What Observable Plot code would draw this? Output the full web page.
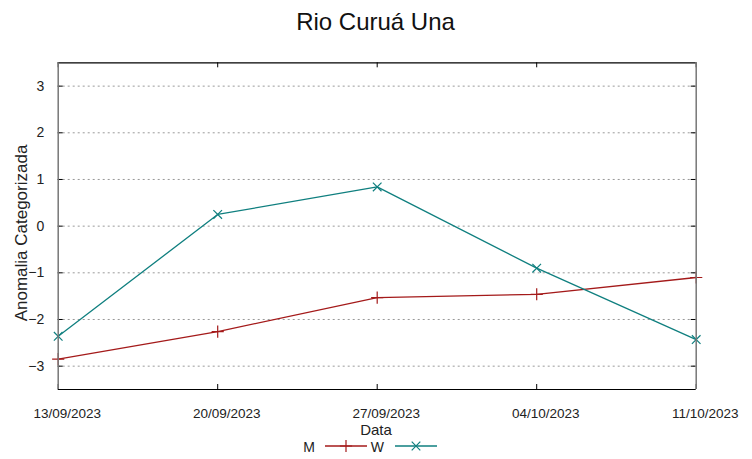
<!DOCTYPE html>
<html>
<head>
<meta charset="utf-8">
<script src="https://cdn.jsdelivr.net/npm/d3@7"></script>
<script src="https://cdn.jsdelivr.net/npm/@observablehq/plot@0.6"></script>
<style>
  html, body { margin: 0; padding: 0; background: #fff; }
  #chart svg { display: block; font-family: "Liberation Sans", Arial, sans-serif; }
</style>
</head>
<body>
<div id="chart"></div>
<script>
const title = "Rio Curuá Una";
const xLabel = "Data";
const yLabel = "Anomalia Categorizada";
const dates = ["2023-09-13", "2023-09-20", "2023-09-27", "2023-10-04", "2023-10-11"];
const seriesNames = ["M", "W"];
const seriesColors = ["#a41a1a", "#0f7f7f"];
const seriesSymbols = ["plus", "times"];
const valuesM = [-2.85, -2.26, -1.53, -1.46, -1.10];
const valuesW = [-2.36, 0.25, 0.84, -0.90, -2.43];
const yTicks = [-3, -2, -1, 0, 1, 2, 3];
const yDomain = [-3.5, 3.5];

const parse = d3.utcParse("%Y-%m-%d");
const xDates = dates.map(parse);
const allValues = [valuesM, valuesW];
const data = [];
seriesNames.forEach((s, i) => {
  xDates.forEach((d, j) => data.push({series: s, date: d, value: allValues[i][j]}));
});

const W = 752, H = 459;
const mL = 57.7, mR = 56.3, mT = 62.3, mB = 70;
const innerW = W - mL - mR, innerH = H - mT - mB;
const color = {domain: seriesNames, range: seriesColors};

const plot = Plot.plot({
  width: W,
  height: H,
  marginLeft: mL,
  marginRight: mR,
  marginTop: mT,
  marginBottom: mB,
  style: {fontFamily: '"Liberation Sans", Arial, sans-serif', background: "#fff"},
  x: {type: "utc", domain: [xDates[0], xDates[xDates.length - 1]]},
  y: {domain: yDomain},
  color,
  marks: [
    Plot.gridY(yTicks, {stroke: "#999", strokeOpacity: 1, strokeDasharray: "2,3"}),
    Plot.axisY(yTicks, {tickSize: 0, tickPadding: 14, fontSize: 14, label: null, fill: "#222"}),
    Plot.axisX(xDates, {tickSize: 0, tickPadding: 19, fontSize: 13.5, dx: 9, label: null, tickFormat: d3.utcFormat("%d/%m/%Y"), fill: "#222"}),
    Plot.tickX(xDates, {x: d => d, insetTop: innerH - 5, stroke: "#000"}),
    Plot.tickX(xDates, {x: d => d, insetBottom: innerH - 5, stroke: "#000"}),
    Plot.tickY(yTicks, {y: d => d, insetLeft: innerW - 5, stroke: "#000"}),
    Plot.tickY(yTicks, {y: d => d, insetRight: innerW - 5, stroke: "#000"}),
    Plot.line(data, {x: "date", y: "value", z: "series", stroke: "series", strokeWidth: 1.3}),
    Plot.dot(data, {x: "date", y: "value", stroke: "series", symbol: d => seriesSymbols[seriesNames.indexOf(d.series)], r: 4, strokeWidth: 1.2}),
    Plot.ruleY(yDomain, {stroke: "#000", strokeWidth: 1.2}),
    Plot.ruleX([xDates[0], xDates[xDates.length - 1]], {stroke: "#777", strokeWidth: 1.5})
  ]
});

document.getElementById("chart").appendChild(plot);
const svg = d3.select(plot);
const font = '"Liberation Sans", Arial, sans-serif';

svg.append("text").attr("x", 375.5).attr("y", 30).attr("text-anchor", "middle")
  .attr("font-size", 24).attr("font-family", font).attr("fill", "#111").text(title);
svg.append("text").attr("transform", "translate(27,233) rotate(-90)").attr("text-anchor", "middle")
  .attr("font-size", 17).attr("font-family", font).attr("fill", "#222").text(yLabel);
svg.append("text").attr("x", 376).attr("y", 435).attr("text-anchor", "middle")
  .attr("font-size", 15).attr("font-family", font).attr("fill", "#222").text(xLabel);

// legend
const legendItems = [
  {textEnd: 315, x1: 325, x2: 367},
  {textEnd: 384, x1: 395, x2: 437}
];
seriesNames.forEach((s, i) => {
  const it = legendItems[i];
  svg.append("text").attr("x", it.textEnd).attr("y", 452).attr("text-anchor", "end")
    .attr("font-size", 14).attr("font-family", font).attr("fill", "#222").text(s);
  svg.append("line").attr("x1", it.x1).attr("x2", it.x2).attr("y1", 446).attr("y2", 446)
    .attr("stroke", seriesColors[i]).attr("stroke-width", 1.3);
  const sym = i === 0 ? d3.symbolPlus : d3.symbolTimes;
  svg.append("path").attr("d", d3.symbol(sym, 50)())
    .attr("transform", `translate(${(it.x1 + it.x2) / 2},446)`)
    .attr("fill", "none").attr("stroke", seriesColors[i]).attr("stroke-width", 1.2);
});
</script>
</body>
</html>
